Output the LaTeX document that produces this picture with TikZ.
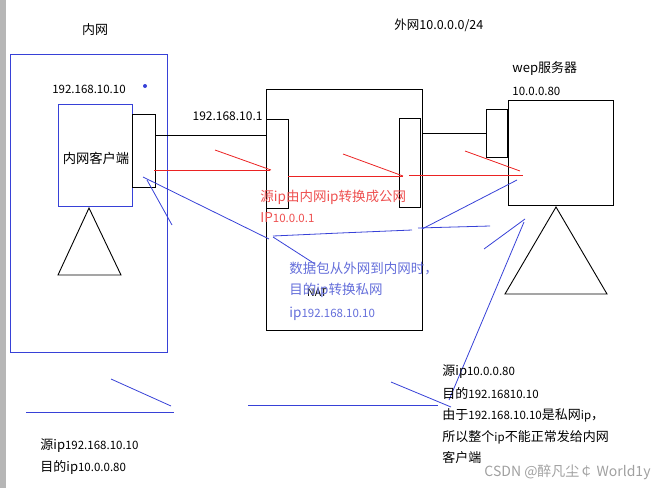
\documentclass[tikz,border=0pt]{standalone}
\usepackage{fontspec}
\setmainfont{Noto Sans CJK SC}
\usepackage{tikz}
\usetikzlibrary{positioning}
\definecolor{lanblue}{RGB}{55,65,215}
\definecolor{penred}{RGB}{235,35,35}
\definecolor{notered}{RGB}{238,80,80}
\definecolor{noteblue}{RGB}{100,110,218}
\definecolor{bargray}{RGB}{182,182,182}
\definecolor{markgray}{RGB}{160,160,160}
\newcommand{\num}[1]{{\fontsize{11.5}{13}\selectfont #1}}

\begin{document}
\begin{tikzpicture}[x=1pt, y=-1pt, line width=0.9pt,
    box/.style={draw, inner sep=0pt, anchor=north west},
    txt/.style={inner sep=0pt, font=\fontsize{13}{15}\selectfont},
    redpen/.style={penred, line width=0.8pt},
    bluepen/.style={lanblue, line width=0.8pt}]
    \useasboundingbox (0,0) rectangle (671,488);
    % --- page edge ---
    \fill[bargray] (0,0) rectangle (6,488);
    % --- inner network ---
    \node[txt] (lanname) at (95,30) {内网};
    \node[box, lanblue, minimum width=157pt, minimum height=298pt] (lan) at (9.5,54) {};
    \node[txt, font=\fontsize{11.5}{13}\selectfont] (clientip) at (89,89) {192.168.10.10};
    \fill[lanblue] (145,86) circle (2pt);
    \node[box, lanblue, minimum width=74pt, minimum height=102pt] (client) at (58,104) {};
    \node[txt, black, font=\fontsize{13.3}{15}\selectfont] (clientname) at (96,158) {内网客户端};
    \node[box, minimum width=23pt, minimum height=73pt] (cnic) at (132,114) {};
    \draw (89,208) -- (58,275) -- (121,275) -- cycle;
    % --- NAT router ---
    \node[box, minimum width=156pt, minimum height=241pt] (nat) at (266,89) {};
    \node[box, minimum width=22pt, minimum height=89pt] (natL) at (266,119) {};
    \node[box, minimum width=21pt, minimum height=89pt] (natR) at (399,118) {};
    \node[txt, font=\fontsize{12}{13}\selectfont, anchor=east] (natLip) at (263,116) {192.168.10.1};
    \node[txt, font=\fontsize{10.5}{12}\selectfont] (natname) at (317,293) {NAT};
    \draw ([yshift=15.5pt]cnic.east) -- ([yshift=15.5pt]cnic.east -| natL.west);
    % --- outer network / web server ---
    \node[txt, font=\fontsize{12.5}{14}\selectfont, anchor=west] (wanname) at (394,25) {外网10.0.0.0/24};
    \node[txt, anchor=west] (srvname) at (512,69) {wep服务器};
    \node[txt, font=\fontsize{11.5}{13}\selectfont, anchor=west] (srvip) at (512,91) {10.0.0.80};
    \node[box, minimum width=105pt, minimum height=105pt] (srv) at (508,100) {};
    \node[box, minimum width=21pt, minimum height=48pt] (srvnic) at (486,109) {};
    \draw (srvnic.west) -- (srvnic.west -| nat.east);
    \draw (556,207) -- (505,294) -- (607,294) -- cycle;
    % --- outgoing packet (red) ---
    \draw[redpen] (154,170) -- (270,170);
    \draw[redpen] (215,150) -- (271,170);
    \draw[redpen] (288,176) -- (403,176);
    \draw[redpen] (343,154) -- (403,176);
    \draw[redpen] (409,175) -- (523,175);
    \draw[redpen] (465,151) -- (520,171);
    \node[txt, notered, font=\fontsize{13.5}{15}\selectfont, anchor=west] (rednote1) at (260,197) {源ip由内网ip转换成公网};
    \node[txt, notered, font=\fontsize{13.5}{15}\selectfont, anchor=west] (rednote2) at (260,218) {IP\num{10.0.0.1}};
    % --- returning packet (blue) ---
    \draw[bluepen] (143,177) -- (269,239);
    \draw[bluepen] (147,180) -- (172,225);
    \draw[bluepen] (273,237) -- (315,264);
    \draw[bluepen] (273,236) -- (340,233) -- (412,230);
    \draw[bluepen] (418,228) -- (490,226);
    \draw[bluepen] (422,229) -- (517,180);
    \draw[bluepen] (484,249) -- (525,219);
    \draw[bluepen] (524,222) -- (449,400);
    \node[txt, noteblue, font=\fontsize{13.5}{15}\selectfont, anchor=west] (bluenote1) at (289,269) {数据包从外网到内网时，};
    \node[txt, noteblue, font=\fontsize{13.5}{15}\selectfont, anchor=west] (bluenote2) at (289,290) {目的ip转换私网};
    \node[txt, noteblue, font=\fontsize{13.5}{15}\selectfont, anchor=west] (bluenote3) at (289,314) {ip\num{192.168.10.10}};
    % --- bottom strokes ---
    \draw[bluepen] (111,379) -- (171,406);
    \draw[bluepen] (26,412) -- (174,412);
    \draw[bluepen] (248,405) -- (438,405);
    \draw[bluepen] (391,382) -- (451,407);
    % --- packet headers ---
    \node[txt, anchor=west] (reqsrc) at (40,446) {源ip\num{192.168.10.10}};
    \node[txt, anchor=west] (reqdst) at (40,467) {目的ip\num{10.0.0.80}};
    \node[txt, anchor=west] (repsrc) at (442,372) {源ip\num{10.0.0.80}};
    \node[txt, anchor=west] (repdst) at (442,393) {目的\num{192.16810.10}};
    \node[txt, anchor=west] (repwhy1) at (442,415) {由于\num{192.168.10.10}是私网\num{ip}，};
    \node[txt, anchor=west] (repwhy2) at (442,437) {所以整个\num{ip}不能正常发给内网};
    \node[txt, anchor=west] (repwhy3) at (442,458) {客户端};
    \node[txt, markgray, anchor=east, font=\fontsize{14}{16}\selectfont] (mark) at (651,472) {CSDN @醉凡尘￠ World1y};
\end{tikzpicture}
\end{document}
